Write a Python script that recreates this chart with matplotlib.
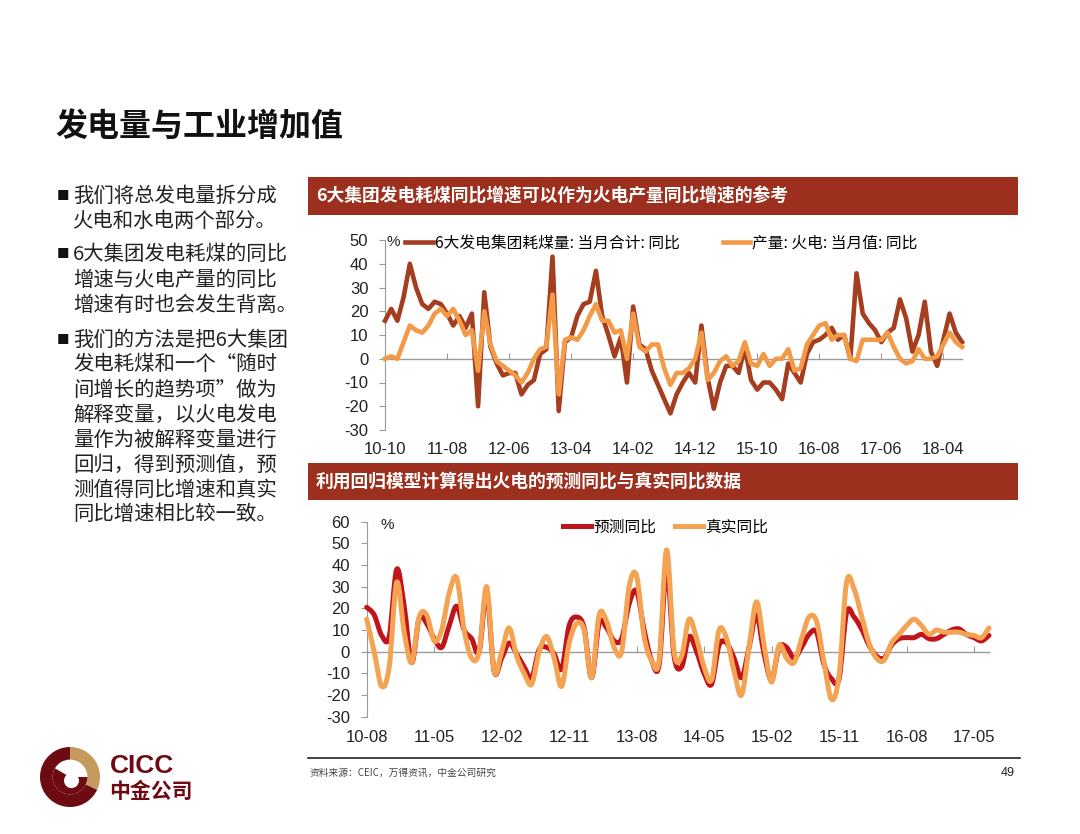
import matplotlib
matplotlib.use("Agg")
import matplotlib.pyplot as plt
from matplotlib.patches import Rectangle, Wedge, Circle, PathPatch
from matplotlib.lines import Line2D
from matplotlib.path import Path
import numpy as np
import pandas as pd

plt.rcParams['font.family'] = ['Noto Sans CJK SC', 'DejaVu Sans']

# ---------------- data ----------------
top_start = '2010-10'
coal_yoy = [16, 21, 16, 26, 40, 30, 23, 21, 24, 23,
            19, 14, 18, 13, 19, -20, 28, 5, -2, -7,
            -6, -6, -15, -11, -9, 2, 4, 43, -22, 7,
            9, 18, 23, 24, 37, 18, 10, 1, 9, -10,
            22, 6, 4, -5, -11, -17, -23, -15, -10, -6,
            -10, 14, -8, -21, -10, -3, -3, -6, 5, -9,
            -13, -10, -10, -13, -17, -2, -6, -10, 2, 7,
            8, 10, 13, 8, 10, 0, 36, 19, 15, 12,
            7, 11, 13, 25, 17, 3, 10, 24, 3, -3,
            8, 19, 11, 7]
thermal_yoy = [0, 1, 0, 7, 14, 12, 11, 14, 19, 21,
               18, 21, 16, 10, 12, -5, 20, 6, -1, -3,
               -5, -7, -10, -6, 0, 4, 5, 27, -15, 8,
               9, 8, 12, 18, 23, 16, 16, 11, 12, 0,
               19, 5, 3, 6, 6, -4, -11, -6, -6, -4,
               0, 11, -9, -6, -1, 1, -3, -1, 7, -2,
               -3, 2, -3, 0, 0, 4, -5, -4, 6, 10,
               14, 15, 8, 10, 10, 0, -1, 8, 8, 8,
               8, 11, 5, 0, -2, -1, 4, 0, 0, 1,
               6, 11, 7, 5]
top_labels = ['6大发电集团耗煤量: 当月合计: 同比', '产量: 火电: 当月值: 同比']

bot_start = '2010-08'
pred_yoy = [20.5, 17, 7.5, 7, 38, 21, -5, 15.5, 13, 6,
            2, 12, 21, 10, 6, 0, 27, -9, -3, 4,
            -1, -7, -12, 1, 2, -1, -8, 12, 16, 11,
            -12, 13, 11, 5, 6, 22, 28, 10, -4, -6,
            38, -2, -7, 7, 0, -10, -15, 3, 4, -3,
            -12, 2, 17, -1, -13, 2, 2, -3, 2, 8,
            9, -6, -12.5, -12.5, 18, 16, 10.5, 3, -2, -3,
            3, 6, 6.5, 6.5, 8, 6, 6, 8, 10, 10.5,
            8, 6.5, 5, 7.5]
real_yoy = [15, 0, -16, -7, 32, 9, -5, 16, 17, 5,
            10, 27, 34, 10, -3, 0, 30, -9, 0, 11,
            -2, -10, -15, 0, 7, -3, -16, 4, 13, 10,
            -12, 17, 14, 2, 0, 30, 35, 7, -4, -4,
            47, 0, -2, 15, 6, -7, -13, 10, 6, -9,
            -20, 2, 23, 3, -14, 3, -3, -5, 6, 16,
            14, -5, -22, -11, 32, 29, 16.5, 4, -3, -4,
            4, 8, 12, 15, 12, 8, 10, 9, 9, 9,
            8, 7.5, 6.5, 11]
bot_labels = ['预测同比', '真实同比']

title = '发电量与工业增加值'
header1 = '6大集团发电耗煤同比增速可以作为火电产量同比增速的参考'
header2 = '利用回归模型计算得出火电的预测同比与真实同比数据'
bullets = [
    ['我们将总发电量拆分成', '火电和水电两个部分。'],
    ['6大集团发电耗煤的同比', '增速与火电产量的同比', '增速有时也会发生背离。'],
    ['我们的方法是把6大集团', '发电耗煤和一个“随时', '间增长的趋势项”做为',
     '解释变量，以火电发电', '量作为被解释变量进行', '回归，得到预测值，预',
     '测值得同比增速和真实', '同比增速相比较一致。'],
]
source = '资料来源：CEIC，万得资讯，中金公司研究'
page_no = '49'

# ---------------- layout helpers ----------------
W, H = 1080, 834
fig = plt.figure(figsize=(W / 100, H / 100), dpi=100)
fig.patch.set_facecolor('white')


def rect(l, t, r, b):
    return [l / W, 1 - b / H, (r - l) / W, (b - t) / H]


def fx(x):
    return x / W


def fy(y):
    return 1 - y / H


BAR = '#9C2F1D'
TICKFONT = dict(family=['Liberation Sans', 'DejaVu Sans'], size=12, color='#222222')

# title
fig.text(fx(55), fy(127), title, fontsize=23, fontweight='bold', va='center', ha='left', color='#111111')

# bullet text
line_pitch = 25.0
para_tops = [196, 255, 340]
for para, ytop in zip(bullets, para_tops):
    fig.text(fx(57), fy(ytop), '■', fontsize=9, va='center', ha='left', color='#111111')
    for k, line in enumerate(para):
        fig.text(fx(73), fy(ytop + k * line_pitch), line, fontsize=14.7,
                 va='center', ha='left', color='#222222')

# header bars
for (t, b), txt in zip([(177, 215), (463, 500)], [header1, header2]):
    fig.add_artist(Rectangle((fx(308), fy(b)), fx(1018) - fx(308), fy(t) - fy(b),
                             transform=fig.transFigure, facecolor=BAR, edgecolor='none'))
    fig.text(fx(316), fy((t + b) / 2), txt, fontsize=12.8, fontweight='bold',
             color='white', va='center', ha='left')


def style_axes(ax, ymin, ymax, step, ticks, labels, zero_px_to_labels):
    ax.set_ylim(ymin, ymax)
    ax.set_yticks(np.arange(ymin, ymax + 1, step))
    ax.set_yticklabels([f'{v:d}' for v in np.arange(ymin, ymax + 1, step)], **TICKFONT)
    for s in ['top', 'right']:
        ax.spines[s].set_visible(False)
    ax.spines['left'].set_color('#9a9a9a')
    ax.spines['bottom'].set_position(('data', 0))
    ax.spines['bottom'].set_color('#9a9a9a')
    ax.spines['bottom'].set_linewidth(1.0)
    ax.tick_params(axis='y', direction='out', length=4, color='#9a9a9a', pad=8)
    ax.set_xticks(ticks)
    ax.set_xticklabels(labels, **TICKFONT)
    ax.tick_params(axis='x', direction='in', length=4, color='#9a9a9a',
                   pad=zero_px_to_labels * 0.72)
    ax.set_facecolor('none')


def smooth_path(x, y):
    pts = np.column_stack([np.asarray(x, float), np.asarray(y, float)])
    n = len(pts)
    verts = [pts[0]]
    codes = [Path.MOVETO]
    for i in range(n - 1):
        p0 = pts[i - 1] if i > 0 else pts[i]
        p1 = pts[i]
        p2 = pts[i + 1]
        p3 = pts[i + 2] if i + 2 < n else pts[i + 1]
        verts += [p1 + (p2 - p0) / 6.0, p2 - (p3 - p1) / 6.0, p2]
        codes += [Path.CURVE4] * 3
    return Path(verts, codes)


# ---------------- top chart ----------------
ax1 = fig.add_axes(rect(385, 240, 962, 430))
x1 = np.arange(len(coal_yoy))
months1 = pd.period_range(top_start, periods=len(coal_yoy), freq='M')
ax1.set_xlim(0, len(coal_yoy) - 1)
t1 = x1[::10]
l1 = [m.strftime('%y-%m') for m in months1[::10]]
style_axes(ax1, -30, 50, 10, t1, l1, 83)
la, = ax1.plot(x1, coal_yoy, color='#A53E1E', lw=3.3, solid_joinstyle='round', clip_on=False, zorder=3)
lb, = ax1.plot(x1, thermal_yoy, color='#F39A48', lw=3.3, solid_joinstyle='round', clip_on=False, zorder=4)
ax1.text(0.003, 0.99, '%', transform=ax1.transAxes, fontsize=11, ha='left', va='center',
         family=['Liberation Sans', 'DejaVu Sans'], color='#222222')
leg_kw = dict(frameon=False, loc='center left', fontsize=11.3, handlelength=1.75,
              handletextpad=0.15, borderpad=0, borderaxespad=0)
lg1 = ax1.legend([la], [top_labels[0]], bbox_to_anchor=(0.035, 0.984), **leg_kw)
ax1.add_artist(lg1)
ax1.legend([lb], [top_labels[1]], bbox_to_anchor=(0.585, 0.984), **leg_kw)

# ---------------- bottom chart ----------------
ax2 = fig.add_axes(rect(366.7, 521.7, 989, 716.7))
x2 = np.arange(len(pred_yoy))
months2 = pd.period_range(bot_start, periods=len(pred_yoy), freq='M')
ax2.set_xlim(0, len(pred_yoy) - 1)
t2 = x2[::9]
l2 = [m.strftime('%y-%m') for m in months2[::9]]
style_axes(ax2, -30, 60, 10, t2, l2, 78)
c_pred, c_real = '#C0141C', '#F4A352'
for yv, col, z in [(pred_yoy, c_pred, 3), (real_yoy, c_real, 4)]:
    ax2.add_patch(PathPatch(smooth_path(x2, yv), facecolor='none', edgecolor=col, lw=3.6,
                            joinstyle='round', capstyle='round', clip_on=False, zorder=z))
lc = Line2D([], [], color=c_pred, lw=3.6)
ld = Line2D([], [], color=c_real, lw=3.6)
ax2.text(0.022, 0.985, '%', transform=ax2.transAxes, fontsize=11, ha='left', va='center',
         family=['Liberation Sans', 'DejaVu Sans'], color='#222222')
lg2 = ax2.legend([lc], [bot_labels[0]], bbox_to_anchor=(0.316, 0.973), **leg_kw)
ax2.add_artist(lg2)
ax2.legend([ld], [bot_labels[1]], bbox_to_anchor=(0.496, 0.973), **leg_kw)

# ---------------- footer ----------------
fig.add_artist(Line2D([fx(308), fx(1020)], [fy(758), fy(758)], transform=fig.transFigure,
                      color='#222222', lw=1.2))
fig.text(fx(310), fy(773), source, fontsize=7, color='#444444', va='center', ha='left')
fig.text(fx(1015), fy(773), page_no, fontsize=9, color='#222222', va='center', ha='right',
         family=['Liberation Sans', 'DejaVu Sans'])

# logo
DR = '#6E0B12'
GOLD = '#C59A5C'
lax = fig.add_axes(rect(40, 747, 100, 807))
lax.set_xlim(-1, 1)
lax.set_ylim(-1, 1)
lax.set_aspect('equal')
lax.axis('off')
lax.add_patch(Wedge((0, 0), 1.0, 90, 335, width=0.42, facecolor=DR, edgecolor='none'))
lax.add_patch(Wedge((0, 0), 1.0, -25, 90, width=0.42, facecolor=GOLD, edgecolor='none'))
lax.add_patch(Wedge((0, 0), 0.58, 150, 360, facecolor=DR, edgecolor='none'))
lax.add_patch(Circle((0.05, -0.12), 0.25, facecolor='white', edgecolor='none'))
fig.text(fx(110), fy(766), 'CICC', fontsize=19, fontweight='bold', color=DR, va='center', ha='left',
         family=['Liberation Sans', 'DejaVu Sans'])
fig.text(fx(109), fy(791), '中金公司', fontsize=15, fontweight='bold', color=DR, va='center', ha='left')

fig.savefig('out.png', dpi=100, facecolor='white')
